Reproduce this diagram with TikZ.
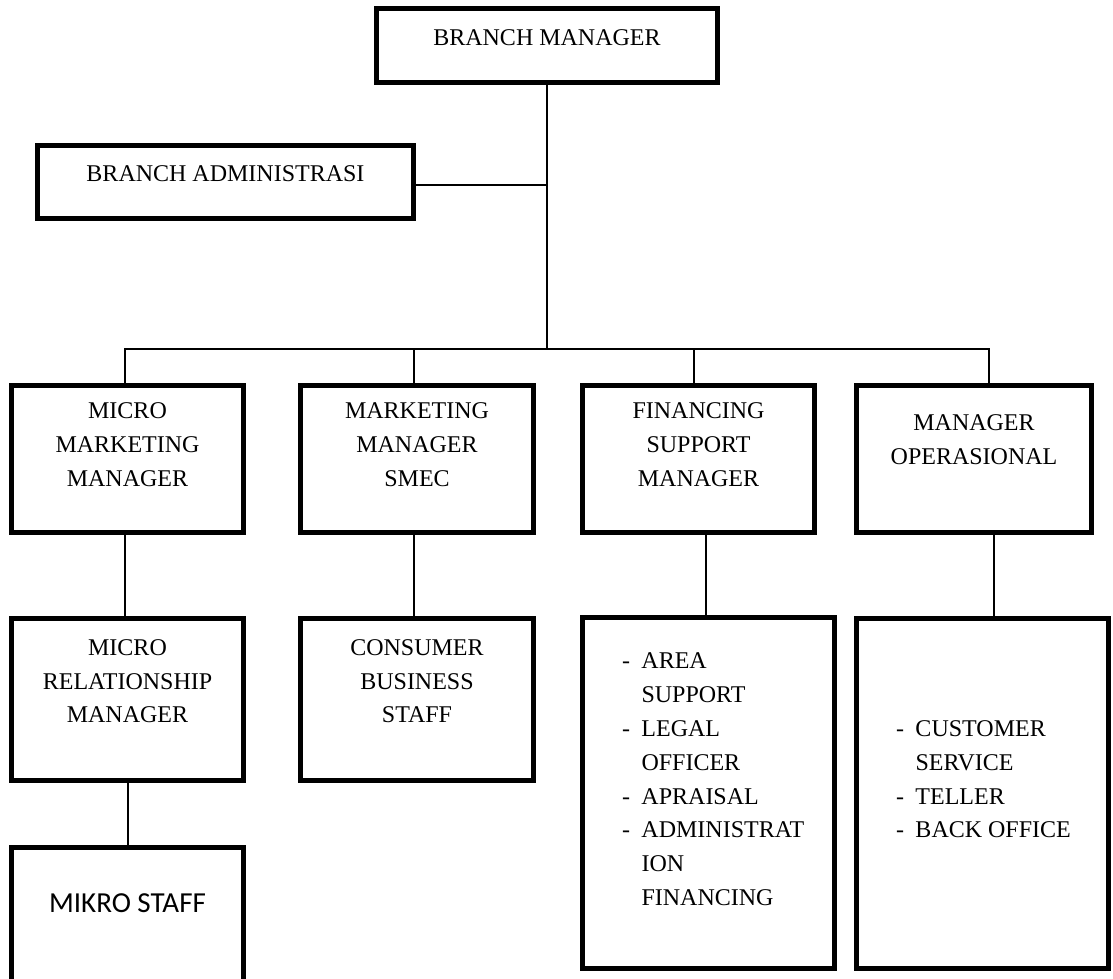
\documentclass[tikz,border=0pt]{standalone}
\usepackage{fontspec}
\setmainfont{Liberation Serif}
\newfontfamily\calib{Carlito}
\newcommand{\boxtext}[4]{\parbox[c][#2pt][t]{#1pt}{\centering\vspace*{#3pt}#4\par}}
\newcommand{\listtext}[4]{\parbox[c][#2pt][t]{#1pt}{\raggedright\leftskip=39.5pt\vspace*{#3pt}#4\par}}
\newcommand{\itm}[1]{\makebox[19.5pt][l]{-}#1}
\newcommand{\cnt}[1]{\hspace*{19.5pt}#1}
\tikzset{
  orgbox/.style={draw, line width=5pt, inner sep=0pt, rectangle},
  conn/.style={line width=1.8pt},
}
\begin{document}
\begin{tikzpicture}[x=1pt,y=-1pt,font=\fontsize{24pt}{33.8pt}\selectfont]
\useasboundingbox (0,0) rectangle (1113,979);
\clip (0,0) rectangle (1113,979);
\fill[white] (0,0) rectangle (1113,979);
% top level
\node[orgbox] (bm) at (547,45.5) {\boxtext{341}{74}{21}{BRANCH MANAGER}};
\node[orgbox] (ba) at (225.5,182) {\boxtext{376}{73}{20}{BRANCH ADMINISTRASI}};
% row 1
\node[orgbox] (b1) at (127.5,459) {\boxtext{232}{147}{17.5}{MICRO\\MARKETING\\MANAGER}};
\node[orgbox] (b2) at (417,459) {\boxtext{233}{147}{17.5}{MARKETING\\MANAGER\\SMEC}};
\node[orgbox] (b3) at (698.5,459) {\boxtext{232}{147}{17.5}{FINANCING\\SUPPORT\\MANAGER}};
\node[orgbox] (b4) at (974,459) {\boxtext{235}{147}{29.5}{MANAGER\\OPERASIONAL}};
% row 2
\node[orgbox] (mrm) at (127.5,699.5) {\boxtext{232}{162}{21}{MICRO\\RELATIONSHIP\\MANAGER}};
\node[orgbox] (cbs) at (417,699.5) {\boxtext{233}{162}{21}{CONSUMER\\BUSINESS\\STAFF}};
\node[orgbox] (fin) at (708.5,793) {\listtext{252}{351}{35.5}{\itm{AREA}\\\cnt{SUPPORT}\\\itm{LEGAL}\\\cnt{OFFICER}\\\itm{APRAISAL}\\\itm{ADMINISTRAT}\\\cnt{ION}\\\cnt{FINANCING}}};
\node[orgbox] (ops) at (982.5,793.5) {\listtext{252}{350}{102}{\itm{CUSTOMER}\\\cnt{SERVICE}\\\itm{TELLER}\\\itm{BACK OFFICE}}};
% row 3
\node[orgbox] (mks) at (127.5,928.75) {\boxtext{232}{162.5}{46}{\calib\fontsize{29pt}{34pt}\selectfont MIKRO STAFF}};
% connectors
\coordinate (bus) at (547,349);
\draw[conn] (bm.south) -- (bus);
\draw[conn] ([yshift=-3pt]ba.east) -- ([yshift=-3pt]ba.east -| bm.south);
\draw[conn] ([xshift=-2.5pt]b1.north) |- (bus) -| ([xshift=15pt]b4.north);
\draw[conn] ([xshift=-3pt]b2.north) -- ([xshift=-3pt]b2.north |- bus);
\draw[conn] ([xshift=-4.5pt]b3.north) -- ([xshift=-4.5pt]b3.north |- bus);
\draw[conn] ([xshift=-2.5pt]b1.south) -- ([xshift=-2.5pt]b1.south |- mrm.north);
\draw[conn] ([xshift=-3pt]b2.south) -- ([xshift=-3pt]b2.south |- cbs.north);
\draw[conn] ([xshift=7.5pt]b3.south) -- ([xshift=7.5pt]b3.south |- fin.north);
\draw[conn] ([xshift=20pt]b4.south) -- ([xshift=20pt]b4.south |- ops.north);
\draw[conn] ([xshift=0.5pt]mrm.south) -- ([xshift=0.5pt]mrm.south |- mks.north);
\end{tikzpicture}
\end{document}
